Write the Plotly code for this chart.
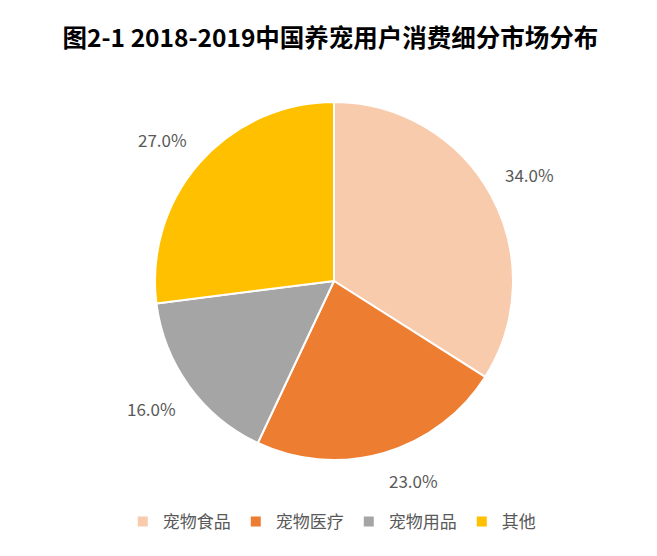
import math
import plotly.graph_objects as go

categories = ["宠物食品", "宠物医疗", "宠物用品", "其他"]
values = [34.0, 23.0, 16.0, 27.0]
colors = ["#F8CBAD", "#ED7D31", "#A5A5A5", "#FFC000"]

W, H = 657, 556
cx, cy, r = 334, 281, 179
label_gap = 15  # px between pie edge and label box corner

fig = go.Figure(go.Pie(
    labels=categories,
    values=values,
    sort=False,
    direction="clockwise",
    rotation=0,
    marker=dict(colors=colors, line=dict(color="white", width=2)),
    textinfo="none",
    domain=dict(x=[(cx - r) / W, (cx + r) / W], y=[(H - cy - r) / H, (H - cy + r) / H]),
    hoverinfo="label+percent",
))

# data labels at "outside end": box corner touches a circle just outside the pie
total = sum(values)
cum = 0.0
for v in values:
    mid = (cum + v / 2) / total * 2 * math.pi
    cum += v
    s, c = math.sin(mid), math.cos(mid)
    px = cx + (r + label_gap) * s
    py = cy - (r + label_gap) * c
    fig.add_annotation(
        x=px / W, y=1 - py / H, xref="paper", yref="paper",
        text=f"{v:.1f}%", showarrow=False,
        xanchor="left" if s > 0 else "right",
        yanchor="bottom" if c > 0 else "top",
        borderpad=0,
        font=dict(size=17, color="#595959", family="Noto Sans CJK SC"),
    )

fig.update_layout(
    width=W, height=H,
    margin=dict(l=0, r=0, t=0, b=0),
    paper_bgcolor="white",
    font=dict(family="Noto Sans CJK SC", color="#595959"),
    title=dict(
        text="图2-1 2018-2019中国养宠用户消费细分市场分布",
        x=0.503, xanchor="center", y=1 - 38 / H, yanchor="middle",
        font=dict(size=24.5, color="#000000", family="Noto Sans CJK SC", weight="bold"),
    ),
    legend=dict(
        orientation="h", x=0.505, xanchor="center", y=1 - 522 / H, yanchor="middle",
        font=dict(size=17, color="#595959"),
        itemwidth=30,
    ),
)

fig.write_html("out.html")
